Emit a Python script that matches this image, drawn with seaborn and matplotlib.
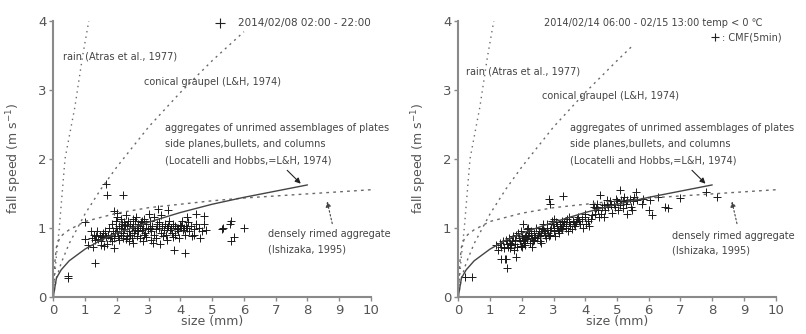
import numpy as np
import pandas as pd
import matplotlib
matplotlib.use("Agg")
import matplotlib.pyplot as plt
import seaborn as sns

# ---------------- data ----------------
rain_d = [0, 0.04, 0.08, 0.19, 0.37, 0.68, 0.92, 1.12]
rain_v = [0, 0.25, 0.5, 1.0, 2.0, 2.75, 3.48, 4.0]

graupel_d_left = [0, 0.1, 0.25, 0.5, 1, 1.5, 2, 3, 4, 5, 6]
graupel_v_left = [0, 0.27, 0.49, 0.77, 1.2, 1.56, 1.88, 2.46, 2.96, 3.42, 3.84]
graupel_d_right = [0, 0.1, 0.25, 0.5, 1, 1.5, 2, 3, 4, 5, 5.45]
graupel_v_right = [0, 0.27, 0.49, 0.77, 1.2, 1.56, 1.88, 2.46, 2.96, 3.42, 3.62]

agg_d = [0, 0.1, 0.25, 0.5, 1, 1.5, 2, 3, 4, 5, 6, 7, 8]
agg_v = [0, 0.27, 0.39, 0.52, 0.69, 0.82, 0.92, 1.08, 1.22, 1.34, 1.44, 1.53, 1.62]

rimed_d = [0, 0.05, 0.1, 0.2, 0.3, 0.5, 1, 2, 3, 4, 5, 6, 7, 8, 9, 10]
rimed_v = [0, 0.5, 0.72, 0.85, 0.9, 0.97, 1.09, 1.21, 1.29, 1.34, 1.39, 1.43, 1.46, 1.49, 1.52, 1.55]

left_x = [0.45, 0.47, 1.3, 1.65, 1.7, 2.2, 3.8, 4.15, 6.0, 5.6, 5.7, 5.55, 5.6, 5.35, 5.3, 4.8, 4.75, 4.5, 4.2,
          1.0, 1.2, 1.0, 1.1, 1.25, 1.5, 1.6, 1.55, 1.9, 2.0, 1.9, 2.3, 2.5, 2.6, 3.0, 3.3, 3.6, 3.4, 2.8,
          1.22, 1.28, 1.31, 1.38, 1.34, 1.47, 1.42, 1.53, 1.58, 1.51, 1.67, 1.62, 1.69,
          1.73, 1.78, 1.76, 1.82, 1.88, 1.86, 1.84, 1.93, 1.98, 1.91, 1.97,
          2.02, 2.08, 2.04, 2.07, 2.01, 2.13, 2.17, 2.12, 2.18, 2.14, 2.23, 2.27, 2.21, 2.28, 2.24,
          2.33, 2.38, 2.31, 2.36, 2.39, 2.43, 2.47, 2.41, 2.48, 2.52, 2.58, 2.54, 2.57, 2.51,
          2.62, 2.68, 2.64, 2.67, 2.72, 2.78, 2.74, 2.77, 2.82, 2.88, 2.84, 2.87, 2.81,
          2.93, 2.98, 2.91, 3.03, 3.08, 3.04, 3.07, 3.12, 3.18, 3.14, 3.17, 3.22, 3.28, 3.24,
          3.32, 3.38, 3.34, 3.37, 3.42, 3.48, 3.44, 3.52, 3.58, 3.54, 3.57, 3.62, 3.68, 3.64,
          3.72, 3.78, 3.74, 3.77, 3.82, 3.88, 3.84, 3.92, 3.98, 3.94, 3.97, 4.02, 4.08, 4.04,
          4.12, 4.18, 4.14, 4.22, 4.28, 4.24, 4.32, 4.38, 4.42, 4.48, 4.44, 4.58, 4.63, 4.68, 4.73]
left_y = [0.30, 0.27, 0.49, 1.63, 1.48, 1.48, 0.67, 0.63, 1.0, 0.8, 0.87, 1.05, 1.1, 1.0, 0.98, 0.97, 1.17, 1.2, 1.15,
          1.08, 0.95, 0.83, 0.75, 0.72, 0.75, 0.73, 0.88, 0.7, 1.22, 1.24, 1.18, 1.12, 1.15, 1.2, 1.27, 1.25, 1.18, 1.1,
          0.85, 0.9, 0.82, 0.95, 0.88, 0.9, 0.84, 0.86, 0.93, 0.8, 0.87, 0.95, 0.77,
          0.9, 0.85, 1.0, 0.88, 0.95, 1.05, 0.8, 0.92, 1.0, 0.85, 1.1,
          0.95, 1.02, 0.88, 0.82, 1.15, 1.0, 1.05, 0.9, 0.85, 1.12, 0.98, 1.04, 0.93, 0.84, 1.08,
          1.02, 0.95, 0.88, 1.1, 0.8, 1.05, 1.0, 0.9, 0.85, 1.03, 0.97, 0.92, 1.1, 0.78,
          1.0, 1.06, 0.88, 0.95, 1.02, 0.96, 0.85, 1.08, 1.0, 0.93, 0.9, 1.12, 0.8,
          1.05, 0.98, 0.87, 1.0, 0.95, 1.1, 0.82, 1.03, 0.9, 0.78, 1.15, 0.98, 1.05, 0.85,
          1.0, 0.92, 1.08, 0.76, 1.02, 0.96, 0.88, 1.05, 1.0, 0.9, 0.82, 1.03, 0.97, 1.1,
          1.0, 1.05, 0.93, 0.86, 1.02, 0.98, 0.9, 1.0, 1.04, 0.95, 0.85, 1.02, 0.97, 1.1,
          0.99, 1.03, 0.9, 1.0, 0.95, 1.08, 1.02, 0.88, 0.98, 1.05, 0.9, 1.0, 0.85, 0.95, 1.05]

right_x = [0.21, 0.42, 1.2, 1.24, 1.3, 1.33, 1.36, 1.4, 1.44, 1.47, 1.5, 1.53, 1.56, 1.49, 1.55, 1.6, 1.64, 1.62,
           1.7, 1.73, 1.67, 1.76, 1.8, 1.83, 1.78, 1.86, 1.81, 1.9, 1.93, 1.88, 1.96,
           2.0, 2.03, 1.98, 2.06, 2.02, 2.04, 2.1, 2.13, 2.08, 2.16, 2.11, 2.2, 2.23, 2.18, 2.26, 2.21,
           2.3, 2.33, 2.28, 2.36, 2.31, 2.4, 2.43, 2.38, 2.46, 2.5, 2.53, 2.48, 2.56,
           2.6, 2.63, 2.58, 2.66, 2.61, 2.7, 2.73, 2.68, 2.76, 2.8, 2.83, 2.78, 2.86, 2.85, 2.88,
           2.9, 2.93, 2.88, 2.96, 3.0, 3.03, 2.98, 3.06, 3.01, 3.1, 3.13, 3.08, 3.16, 3.2, 3.23, 3.18, 3.26,
           3.3, 3.33, 3.28, 3.31, 3.4, 3.43, 3.38, 3.46, 3.5, 3.53, 3.48, 3.6, 3.63, 3.58, 3.7, 3.73, 3.68,
           3.8, 3.83, 3.78, 3.9, 3.93, 4.0, 4.03, 3.98, 4.1, 4.13, 4.2, 4.23, 4.18, 4.3, 4.33, 4.28,
           4.4, 4.43, 4.38, 4.5, 4.53, 4.48, 4.6, 4.63, 4.58, 4.7, 4.73, 4.68, 4.8, 4.83, 4.78, 4.9, 4.93,
           5.0, 5.03, 4.98, 5.1, 5.13, 5.08, 5.2, 5.23, 5.18, 5.3, 5.33, 5.28, 5.4, 5.43, 5.5, 5.53, 5.48,
           5.6, 5.63, 5.8, 5.83, 6.0, 6.03, 6.1, 6.3, 6.5, 6.6, 7.0, 7.8, 8.15]
right_y = [0.29, 0.29, 0.75, 0.68, 0.78, 0.72, 0.55, 0.8, 0.7, 0.55, 0.82, 0.76, 0.72, 0.55, 0.41, 0.85, 0.78, 0.7,
           0.8, 0.88, 0.75, 0.68, 0.82, 0.9, 0.77, 0.72, 0.58, 0.85, 0.8, 0.92, 0.74,
           0.88, 0.82, 0.95, 0.78, 0.72, 1.05, 0.86, 0.9, 0.8, 0.98, 0.75, 0.88, 0.92, 0.83, 0.78, 1.0,
           0.9, 0.85, 0.95, 0.8, 0.72, 0.92, 0.87, 0.82, 1.0, 0.9, 0.95, 0.85, 0.8,
           0.93, 0.98, 0.88, 1.05, 0.78, 0.95, 0.9, 1.0, 0.85, 0.97, 0.92, 1.05, 0.88, 1.41, 1.35,
           0.96, 1.0, 0.9, 1.1, 1.0, 0.95, 1.05, 0.88, 1.12, 1.02, 0.97, 1.08, 0.92, 1.05, 1.0, 0.95, 1.1,
           1.03, 1.08, 0.98, 1.46, 1.05, 1.12, 1.0, 0.95, 1.08, 1.02, 1.15, 1.1, 1.05, 0.98, 1.08, 1.12, 1.02,
           1.1, 1.05, 1.15, 1.12, 1.0, 1.15, 1.05, 1.2, 1.1, 1.02, 1.18, 1.35, 1.12, 1.2, 1.28, 1.3,
           1.25, 1.15, 1.35, 1.2, 1.3, 1.47, 1.33, 1.25, 1.15, 1.35, 1.3, 1.4, 1.33, 1.22, 1.38, 1.35, 1.3,
           1.38, 1.25, 1.42, 1.33, 1.4, 1.55, 1.38, 1.45, 1.28, 1.4, 1.2, 1.35, 1.42, 1.3, 1.38, 1.45, 1.25,
           1.52, 1.4, 1.35, 1.42, 1.25, 1.4, 1.18, 1.45, 1.3, 1.28, 1.43, 1.52, 1.45]

x_ticks = list(range(0, 11))
y_ticks = [0, 1, 2, 3, 4]

# ---------------- plotting ----------------
sns.set_style("ticks")
plt.rcParams['font.family'] = ['DejaVu Sans']
TXT = '#444444'
AXC = '#8a8a8a'
LINEC = '#6a6a6a'

fig = plt.figure(figsize=(8.06, 3.34), dpi=100)
ax_l = fig.add_axes([0.0661, 0.1117, 0.3942, 0.8263])
ax_r = fig.add_axes([0.5686, 0.1117, 0.3938, 0.8263])


def draw(ax, sx, sy, gd, gv):
    sns.lineplot(x=rain_d, y=rain_v, ax=ax, color=LINEC, lw=1.0, linestyle=(0, (1, 3)),
                 sort=False, estimator=None)
    sns.lineplot(x=gd, y=gv, ax=ax, color=LINEC, lw=1.0, linestyle=(0, (1.5, 3)),
                 sort=False, estimator=None)
    sns.lineplot(x=rimed_d, y=rimed_v, ax=ax, color=LINEC, lw=1.0, linestyle=(0, (2, 3)),
                 sort=False, estimator=None)
    sns.lineplot(x=agg_d, y=agg_v, ax=ax, color='#444444', lw=1.0, sort=False, estimator=None)
    sns.scatterplot(x=sx, y=sy, ax=ax, marker='+', color='#1a1a1a', s=32, linewidth=0.7)

    ax.set_xlim(0, 10)
    ax.set_ylim(0, 4)
    ax.set_xticks(x_ticks)
    ax.set_yticks(y_ticks)
    ax.tick_params(axis='both', colors=AXC, labelcolor='#555555', labelsize=9.5,
                   length=3, width=1.0, pad=2)
    for sp in ['top', 'right']:
        ax.spines[sp].set_visible(False)
    for sp in ['left', 'bottom']:
        ax.spines[sp].set_color(AXC)
        ax.spines[sp].set_linewidth(1.5)
    ax.set_xlabel('size (mm)', color='#555555', fontsize=9, labelpad=-1)
    ax.set_ylabel('fall speed (m s$^{-1}$)', color='#555555', fontsize=9, labelpad=10)

    kw = dict(fontsize=7, color=TXT, clip_on=False, va='center')
    ax.text(3.52, 2.44, 'aggregates of unrimed assemblages of plates', **kw)
    ax.text(3.52, 2.21, 'side planes,bullets, and columns', **kw)
    ax.text(3.52, 1.98, '(Locatelli and Hobbs,=L&H, 1974)', **kw)
    ax.annotate('', xy=(7.85, 1.61), xytext=(7.3, 1.86),
                arrowprops=dict(arrowstyle='-|>', color='#222222', lw=0.8, mutation_scale=8))
    ax.annotate('', xy=(8.6, 1.42), xytext=(8.8, 1.02),
                arrowprops=dict(arrowstyle='-|>', color='#444444', lw=0.8, linestyle=(0, (1.5, 2)),
                                mutation_scale=8))
    return kw


kw = draw(ax_l, left_x, left_y, graupel_d_left, graupel_v_left)
ax_l.text(0.31, 3.48, 'rain (Atras et al., 1977)', **kw)
ax_l.text(2.85, 3.11, 'conical graupel (L&H, 1974)', **kw)
ax_l.text(6.77, 0.91, 'densely rimed aggregate', **kw)
ax_l.text(6.77, 0.68, '(Ishizaka, 1995)', **kw)
ax_l.scatter([5.25], [3.96], marker='+', color='#222222', s=60, linewidth=0.8, clip_on=False)
ax_l.text(5.8, 3.96, '2014/02/08 02:00 - 22:00', fontsize=7.5, color=TXT, va='center', clip_on=False)

kw = draw(ax_r, right_x, right_y, graupel_d_right, graupel_v_right)
ax_r.text(0.23, 3.26, 'rain (Atras et al., 1977)', **kw)
ax_r.text(2.63, 2.91, 'conical graupel (L&H, 1974)', **kw)
ax_r.text(6.72, 0.88, 'densely rimed aggregate', **kw)
ax_r.text(6.72, 0.67, '(Ishizaka, 1995)', **kw)
ax_r.text(2.7, 3.97, '2014/02/14 06:00 - 02/15 13:00 temp < 0 \u2103', fontsize=7, color=TXT,
          va='center', clip_on=False)
ax_r.scatter([8.09], [3.76], marker='+', color='#222222', s=40, linewidth=0.8, clip_on=False)
ax_r.text(8.3, 3.76, ': CMF(5min)', fontsize=7, color=TXT, va='center', clip_on=False)

fig.savefig('out.png', dpi=100)
